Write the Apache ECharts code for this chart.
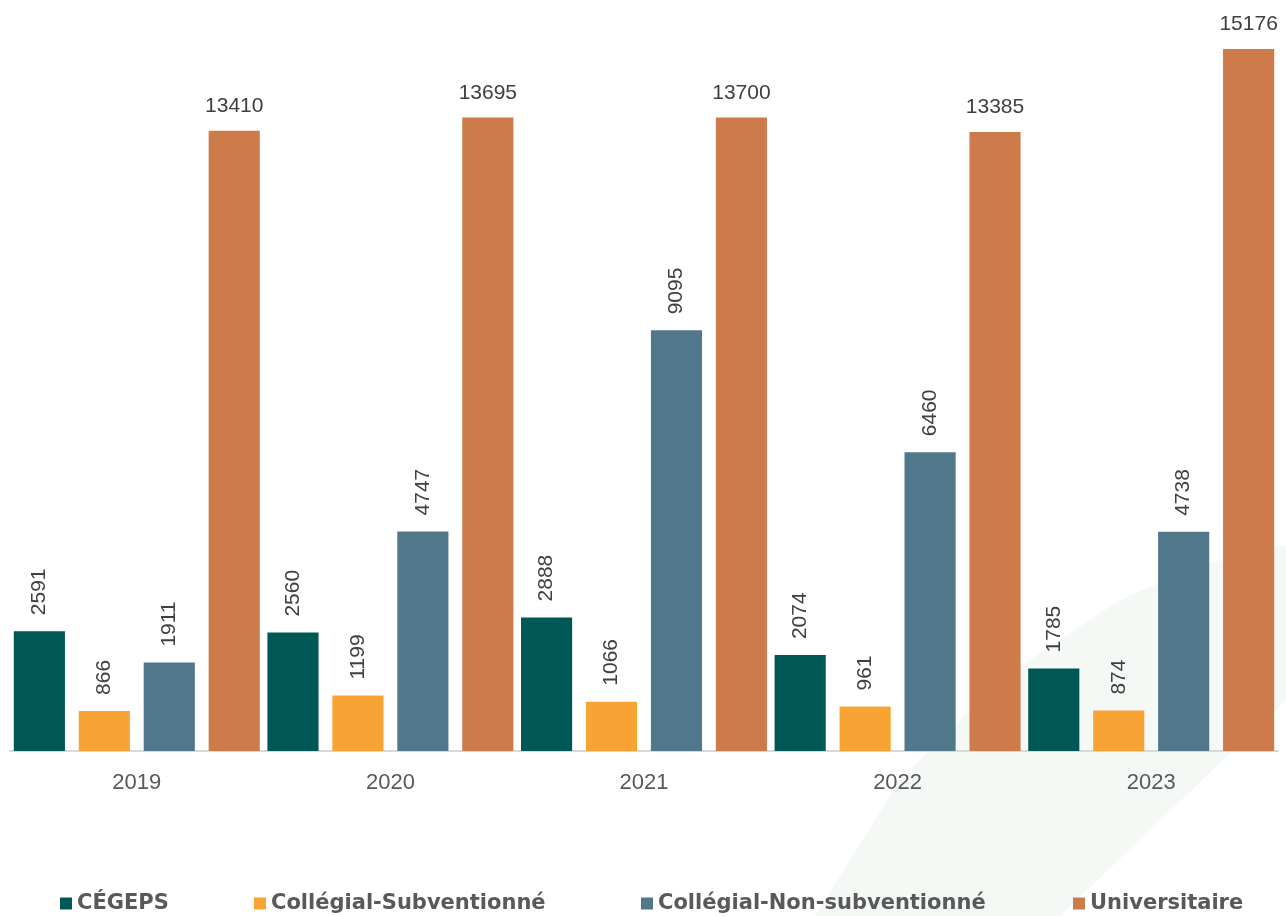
<!DOCTYPE html>
<html>
<head>
<meta charset="utf-8">
<script src="https://cdn.jsdelivr.net/npm/echarts@6/dist/echarts.min.js"></script>
<style>
html,body{margin:0;padding:0;background:#fff;}
#c{width:1286px;height:916px;}
</style>
</head>
<body>
<div id="c"></div>
<script>
const categories = ['2019', '2020', '2021', '2022', '2023'];
const seriesNames = ['CÉGEPS', 'Collégial-Subventionné', 'Collégial-Non-subventionné', 'Universitaire'];
const cegeps = [2591, 2560, 2888, 2074, 1785];
const subventionne = [866, 1199, 1066, 961, 874];
const nonSubventionne = [1911, 4747, 9095, 6460, 4738];
const universitaire = [13410, 13695, 13700, 13385, 15176];
const colors = ['#005856', '#F8A435', '#50788A', '#CD7B4A'];

const chart = echarts.init(document.getElementById('c'), null, {renderer: 'canvas'});
const labelFont = '"Liberation Sans", Arial, sans-serif';
const rotLabel = {
  show: true, position: 'top', rotate: 90, align: 'left', verticalAlign: 'middle',
  distance: 16, fontSize: 21, color: '#404040', fontFamily: labelFont
};
const horLabel = {
  show: true, position: 'top', distance: 14, fontSize: 21, color: '#404040', fontFamily: labelFont
};
const dataSets = [cegeps, subventionne, nonSubventionne, universitaire];
const legendLefts = [55, 249, 636, 1068];
chart.setOption({
  animation: false,
  backgroundColor: '#ffffff',
  graphic: [{
    type: 'polygon', z: -10, silent: true,
    shape: {points: [[815, 916], [1060, 916], [1286, 700], [1286, 545], [1200, 565], [1120, 600], [1000, 680], [900, 780]]},
    style: {fill: '#f5f9f6'}
  }],
  grid: {left: 10, right: 8, top: 11, bottom: 165, containLabel: false},
  legend: seriesNames.map((n, i) => ({
    data: [n], left: legendLefts[i], top: 888, itemWidth: 12, itemHeight: 12, itemGap: 7,
    icon: 'rect',
    textStyle: {fontSize: 21, fontWeight: 'bold', color: '#595959', fontFamily: '"DejaVu Sans", "Liberation Sans", sans-serif'}
  })),
  xAxis: {
    type: 'category', data: categories,
    axisLine: {lineStyle: {color: '#d9d9d9', width: 2}},
    axisTick: {show: false},
    axisLabel: {fontSize: 22, color: '#595959', margin: 21, fontFamily: labelFont}
  },
  yAxis: {
    type: 'value', min: 0, max: 16000, show: false,
    splitLine: {show: false}
  },
  series: dataSets.map((d, i) => ({
    name: seriesNames[i], type: 'bar', data: d,
    itemStyle: {color: colors[i]},
    barGap: '27%', barCategoryGap: '3%',
    label: i === 3 ? horLabel : rotLabel
  }))
});
</script>
</body>
</html>
